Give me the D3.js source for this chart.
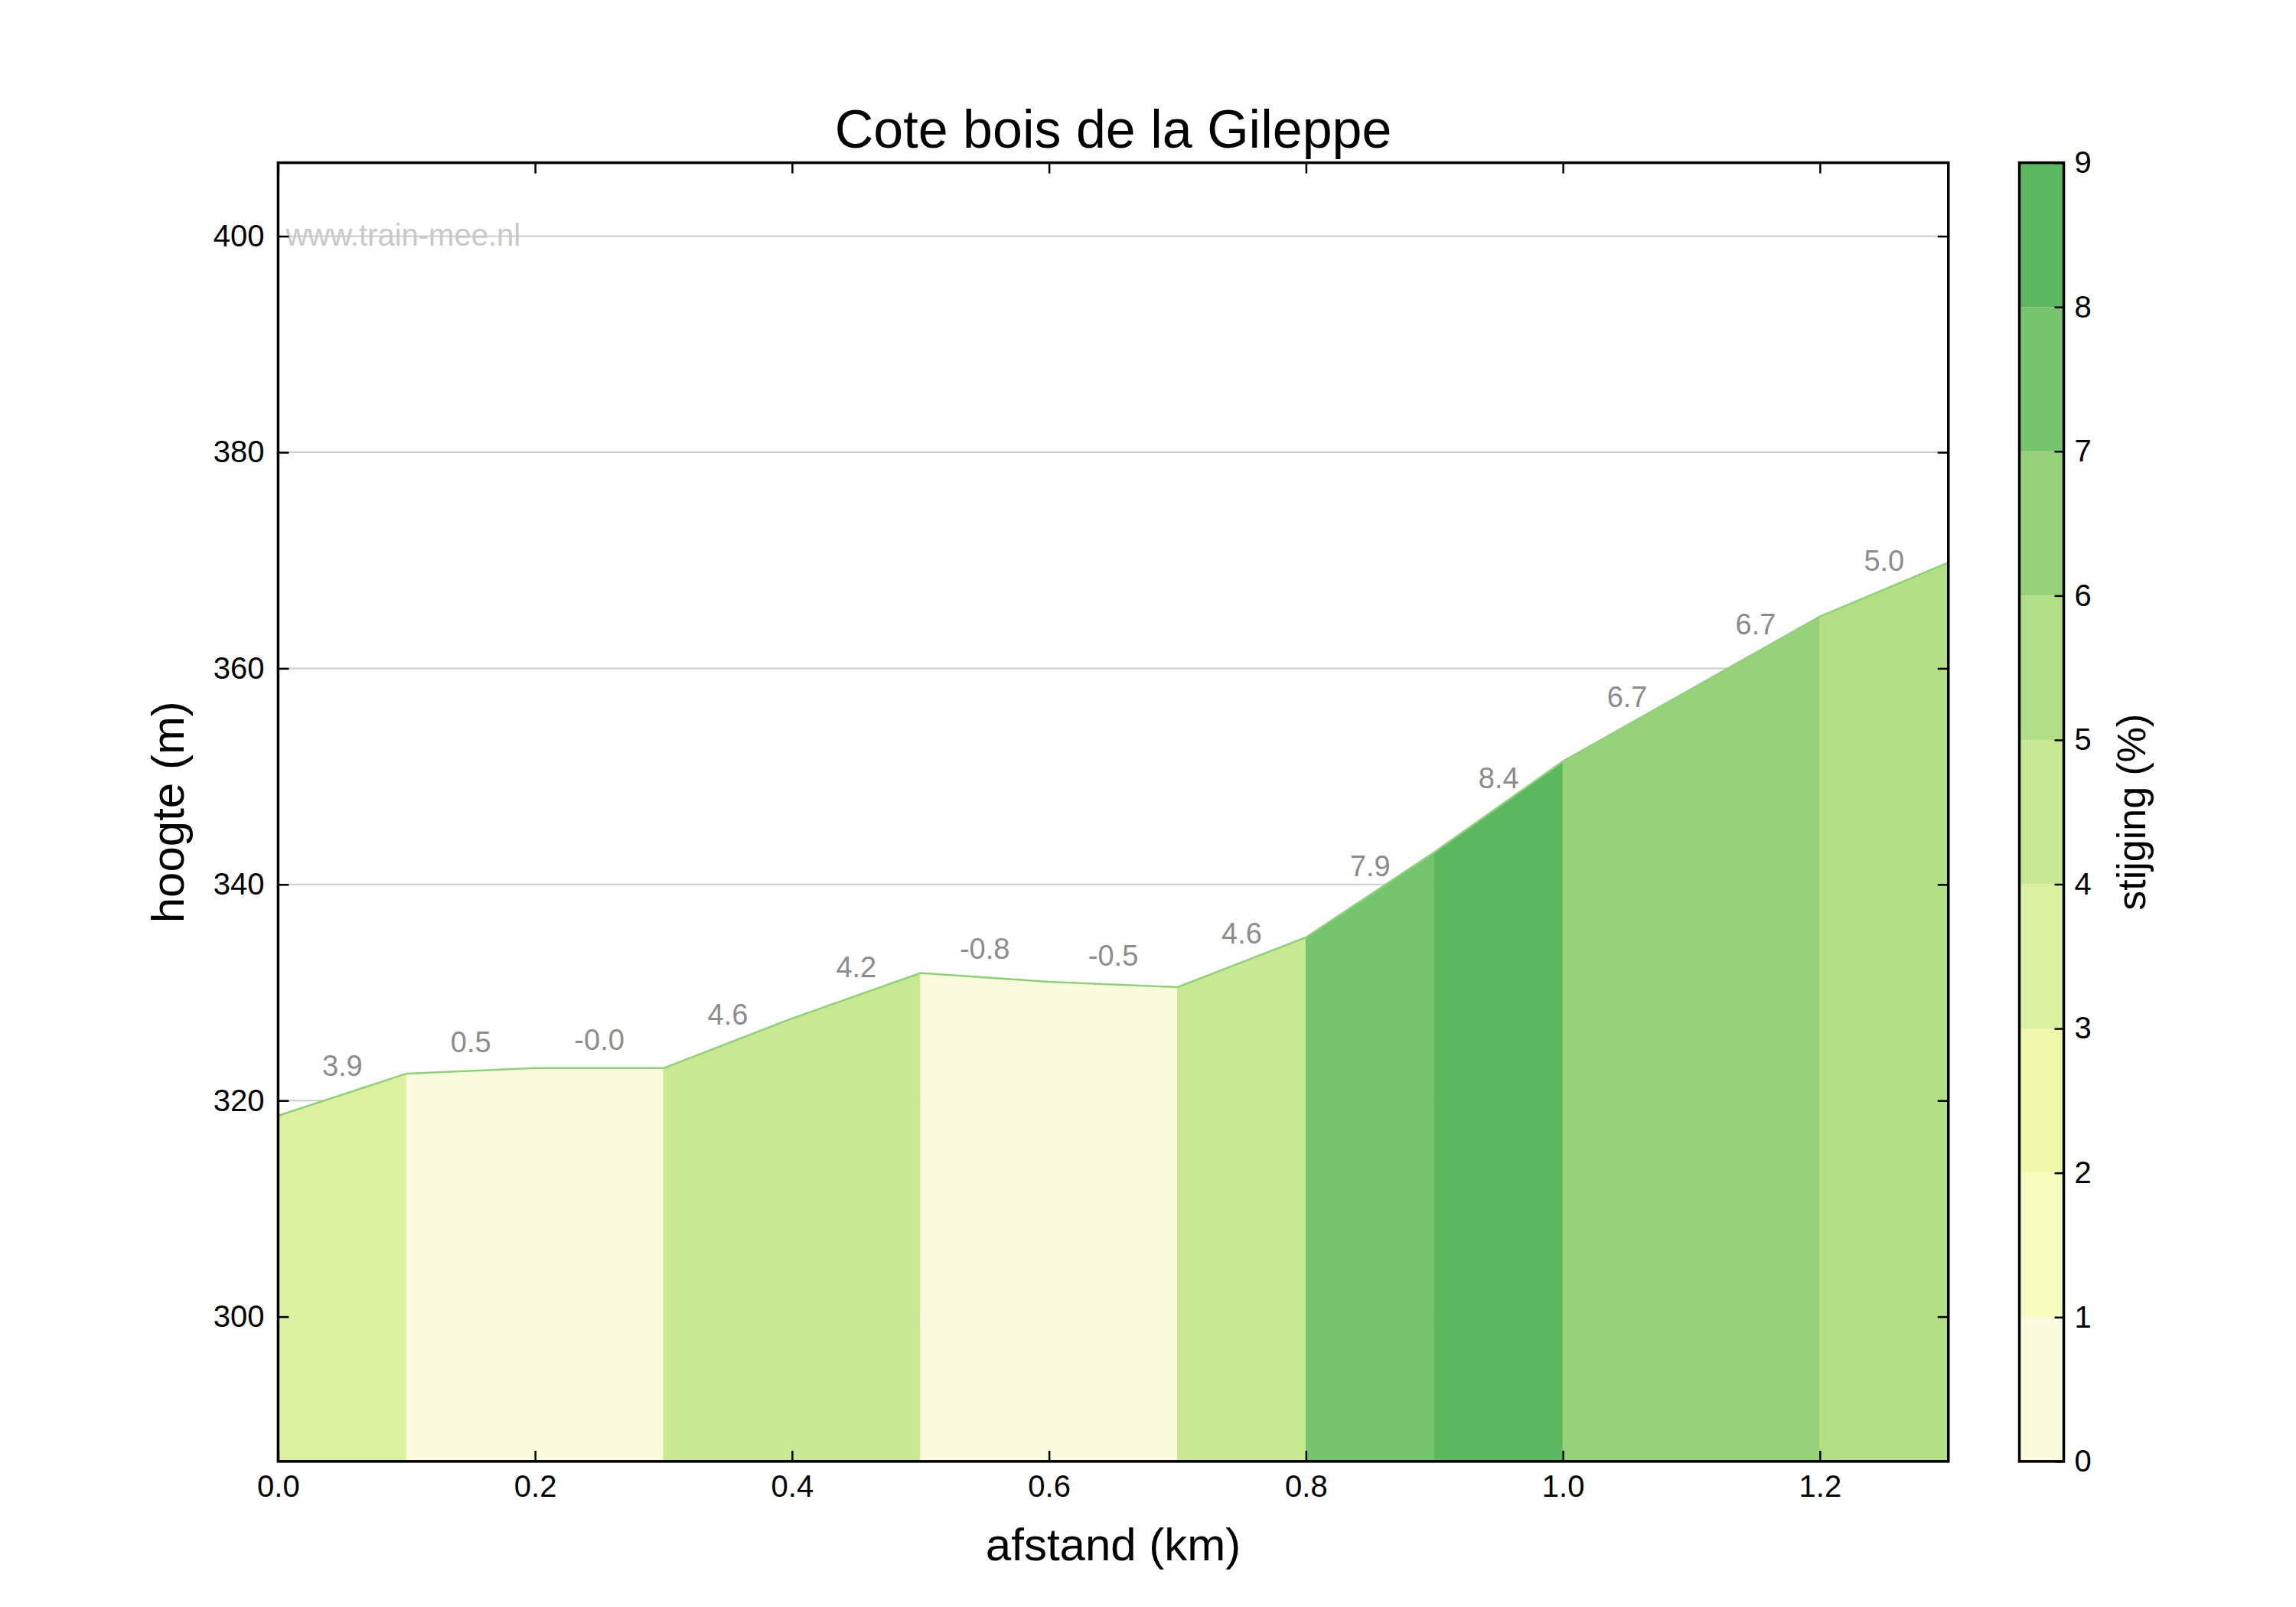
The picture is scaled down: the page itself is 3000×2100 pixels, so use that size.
<!DOCTYPE html>
<html><head><meta charset="utf-8">
<script src="https://cdn.jsdelivr.net/npm/d3@7"></script>
<style>body{margin:0;background:#fff}</style>
</head><body>
<script>
// data
const distances = [0, 0.1, 0.2, 0.3, 0.4, 0.5, 0.6, 0.7, 0.8, 0.9, 1.0, 1.1, 1.2, 1.3]
const heights = [318.6, 322.5, 323.0, 323.0, 327.6, 331.8, 331.0, 330.5, 335.1, 343.0, 351.4, 358.1, 364.8, 369.8]
const gradients = [3.9, 0.5, -0.0, 4.6, 4.2, -0.8, -0.5, 4.6, 7.9, 8.4, 6.7, 6.7, 5.0]
const gradientLabels = ['3.9', '0.5', '-0.0', '4.6', '4.2', '-0.8', '-0.5', '4.6', '7.9', '8.4', '6.7', '6.7', '5.0']
const xTicks = [0, 0.2, 0.4, 0.6, 0.8, 1.0, 1.2]
const yTicks = [300, 320, 340, 360, 380, 400]
const cbTicks = [0, 1, 2, 3, 4, 5, 6, 7, 8, 9]
const binColors = ['#fafadc', '#f6fbbe', '#eef8a8', '#ddf0a0', '#c8e892', '#b2df84', '#96d27a', '#76c56e', '#5cb85f']

const S = 1.933
const W = 3000, H = 2100
const pL = 188 * S, pR = 1317 * S, pT = 110 * S, pB = 988 * S
const font = 'Liberation Sans, Arial, sans-serif'

const svg = d3.select('body').append('svg').attr('width', W).attr('height', H)

const x = d3.scaleLinear().domain([0, 1.3]).range([pL, pR])
const y = d3.scaleLinear().domain([286.6, 406.8]).range([pB, pT])
const color = g => binColors[Math.max(0, Math.min(8, Math.floor(g)))]

// grid
svg.append('g').selectAll('line').data(yTicks).join('line')
  .attr('x1', pL).attr('x2', pR)
  .attr('y1', d => y(d)).attr('y2', d => y(d))
  .attr('stroke', '#cccccc').attr('stroke-width', 2)

// coloured segments
const segs = gradients.map((g, i) => ({ i, g }))
svg.append('g').selectAll('path').data(segs).join('path')
  .attr('d', d => {
    const p = d3.path()
    p.moveTo(x(distances[d.i]), y.range()[0])
    p.lineTo(x(distances[d.i]), y(heights[d.i]))
    p.lineTo(x(distances[d.i + 1]), y(heights[d.i + 1]))
    p.lineTo(x(distances[d.i + 1]), y.range()[0])
    p.closePath()
    return p
  })
  .attr('fill', d => color(d.g)).attr('stroke', d => color(d.g)).attr('stroke-width', 1)

// profile line
svg.append('path')
  .attr('d', d3.line().x((d, i) => x(distances[i])).y(d => y(d))(heights))
  .attr('fill', 'none').attr('stroke', '#8fd17a').attr('stroke-width', 2.5)

// gradient labels
svg.append('g').selectAll('text').data(segs).join('text')
  .attr('x', d => x((distances[d.i] + distances[d.i + 1]) / 2))
  .attr('y', d => y((heights[d.i] + heights[d.i + 1]) / 2) - 24)
  .attr('text-anchor', 'middle').attr('font-family', font).attr('font-size', 38)
  .attr('fill', '#8c8c8c').text(d => gradientLabels[d.i])

// watermark
svg.append('text').attr('x', pL + 10).attr('y', y(400) + 12)
  .attr('font-family', font).attr('font-size', 40).attr('fill', '#c8c8c8')
  .text('www.train-mee.nl')

// frame
svg.append('rect').attr('x', pL).attr('y', pT).attr('width', pR - pL).attr('height', pB - pT)
  .attr('fill', 'none').attr('stroke', '#000').attr('stroke-width', 3.5)

// axes
const xAxis = svg.append('g').attr('transform', `translate(0,${pB})`)
  .call(d3.axisBottom(x).tickValues(xTicks).tickFormat(d3.format('.1f')).tickSizeInner(-14).tickSizeOuter(0).tickPadding(18))
const xTop = svg.append('g').attr('transform', `translate(0,${pT})`)
  .call(d3.axisTop(x).tickValues(xTicks).tickFormat('').tickSizeInner(-14).tickSizeOuter(0))
const yAxis = svg.append('g').attr('transform', `translate(${pL},0)`)
  .call(d3.axisLeft(y).tickValues(yTicks).tickSizeInner(-14).tickSizeOuter(0).tickPadding(18))
const yRight = svg.append('g').attr('transform', `translate(${pR},0)`)
  .call(d3.axisRight(y).tickValues(yTicks).tickFormat('').tickSizeInner(-14).tickSizeOuter(0))
for (const a of [xAxis, xTop, yAxis, yRight]) {
  a.select('.domain').remove()
  a.selectAll('line').attr('stroke', '#000').attr('stroke-width', 2.5)
  a.selectAll('text').attr('font-family', font).attr('font-size', 40).attr('fill', '#000')
}

// titles
svg.append('text').attr('x', (pL + pR) / 2).attr('y', 100 * S)
  .attr('text-anchor', 'middle').attr('font-family', font).attr('font-size', 70).text('Cote bois de la Gileppe')
svg.append('text').attr('x', (pL + pR) / 2).attr('y', 1055 * S)
  .attr('text-anchor', 'middle').attr('font-family', font).attr('font-size', 60).text('afstand (km)')
svg.append('text').attr('transform', `translate(${124 * S},${(pT + pB) / 2}) rotate(-90)`)
  .attr('text-anchor', 'middle').attr('font-family', font).attr('font-size', 60).text('hoogte (m)')

// colour bar
const cbL = 1365 * S, cbR = 1395 * S
const c = d3.scaleLinear().domain([0, 9]).range([pB, pT])
svg.append('g').selectAll('rect').data(binColors).join('rect')
  .attr('x', cbL).attr('width', cbR - cbL)
  .attr('y', (d, i) => c(i + 1)).attr('height', (d, i) => c(i) - c(i + 1))
  .attr('fill', d => d)
svg.append('rect').attr('x', cbL).attr('y', pT).attr('width', cbR - cbL).attr('height', pB - pT)
  .attr('fill', 'none').attr('stroke', '#000').attr('stroke-width', 3.5)
const cbAxis = svg.append('g').attr('transform', `translate(${cbR},0)`)
  .call(d3.axisRight(c).tickValues(cbTicks).tickSizeInner(-12).tickSizeOuter(0).tickPadding(14))
cbAxis.select('.domain').remove()
cbAxis.selectAll('line').attr('stroke', '#000').attr('stroke-width', 2.5)
cbAxis.selectAll('text').attr('font-family', font).attr('font-size', 40).attr('fill', '#000')
svg.append('text').attr('transform', `translate(${1450 * S},${(pT + pB) / 2}) rotate(-90)`)
  .attr('text-anchor', 'middle').attr('font-family', font).attr('font-size', 52).text('stijging (%)')
</script>
</body></html>
